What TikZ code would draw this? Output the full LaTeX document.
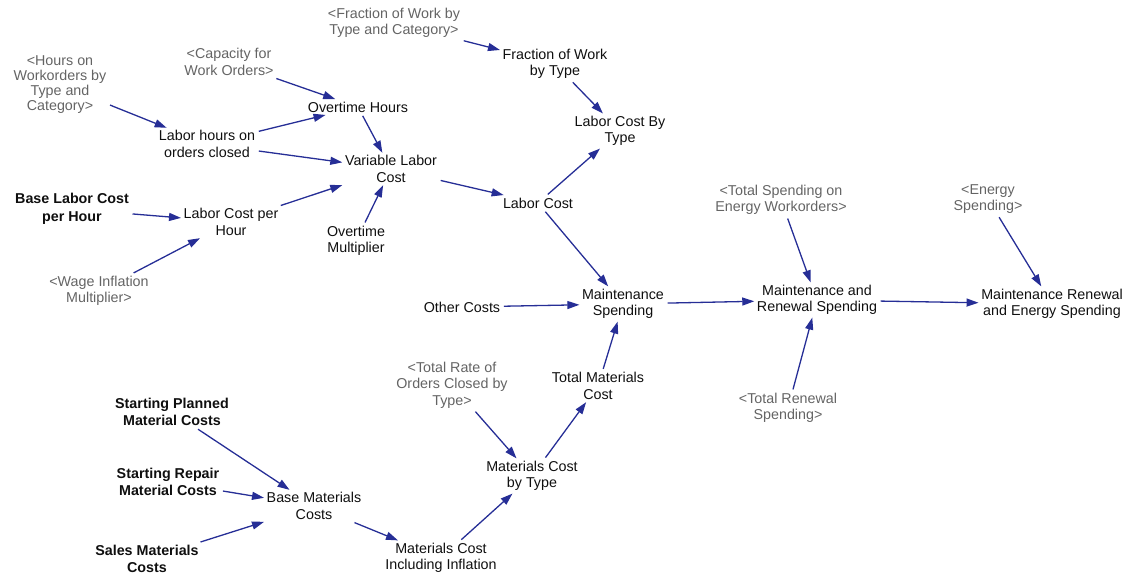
\documentclass[tikz,border=0pt]{standalone}
\usepackage{fontspec}
\setmainfont{Liberation Sans}
\usetikzlibrary{arrows.meta}
\definecolor{arrowblue}{RGB}{38,46,150}
\definecolor{shadowgray}{RGB}{100,100,100}
\definecolor{textblack}{RGB}{15,15,15}
\begin{document}
\begin{tikzpicture}[x=1pt,y=-1pt,
  every node/.style={align=center,inner sep=2.5pt,font=\fontsize{14.3}{16.5}\selectfont,text=textblack},
  var/.style={},
  shadow/.style={text=shadowgray},
  const/.style={font=\fontsize{14.3}{17.5}\selectfont\bfseries},
  link/.style={draw=arrowblue,line width=1.3pt,-{Triangle[length=12pt,width=8pt]},shorten <=1pt,shorten >=0pt}]
\useasboundingbox (0,0) rectangle (1128,580);
% nodes
\node[shadow] (fwc) at (394,23) {<Fraction of Work by\\Type and Category>};
\node[var] (fwt) at (555,64) {Fraction of Work\\by Type};
\node[shadow,font=\fontsize{14.3}{15}\selectfont] (how) at (60,85) {<Hours on\\Workorders by\\Type and\\Category>};
\node[shadow] (cap) at (229,62) {<Capacity for\\Work Orders>};
\node[var] (ot) at (358,107) {Overtime Hours};
\node[var] (lho) at (207,144) {Labor hours on\\orders closed};
\node[var] (vlc) at (391,169) {Variable Labor\\Cost};
\node[var] (lcbt) at (620,131) {Labor Cost By\\Type};
\node[var] (lc) at (538,203) {Labor Cost};
\node[const] (blc) at (72,209) {Base Labor Cost\\per Hour};
\node[var] (lcph) at (231,222) {Labor Cost per\\Hour};
\node[var] (om) at (356,241) {Overtime\\Multiplier};
\node[shadow] (wim) at (99,291) {<Wage Inflation\\Multiplier>};
\node[shadow] (tse) at (781,200) {<Total Spending on\\Energy Workorders>};
\node[shadow] (es) at (988,199) {<Energy\\Spending>};
\node[var] (mrs) at (817,300) {Maintenance and\\Renewal Spending};
\node[var] (mres) at (1052,304) {Maintenance Renewal\\and Energy Spending};
\node[var] (oc) at (462,307) {Other Costs};
\node[var] (ms) at (623,304) {Maintenance\\Spending};
\node[shadow] (trs) at (788,408) {<Total Renewal\\Spending>};
\node[shadow] (tro) at (452,385) {<Total Rate of\\Orders Closed by\\Type>};
\node[var] (tmc) at (598,386) {Total Materials\\Cost};
\node[var] (mcbt) at (532,476) {Materials Cost\\by Type};
\node[var] (mci) at (441,558) {Materials Cost\\Including Inflation};
\node[const] (spm) at (172,412) {Starting Planned\\Material Costs};
\node[const] (srm) at (168,482) {Starting Repair\\Material Costs};
\node[var] (bmc) at (314,506) {Base Materials\\Costs};
\node[const] (smc) at (147,559) {Sales Materials\\Costs};
% connectors
\draw[link] (fwc) -- (fwt);
\draw[link] (fwt) -- (lcbt);
\draw[link] (lc) -- (lcbt);
\draw[link] (vlc) -- (lc);
\draw[link] (lc) -- (ms);
\draw[link] (how) -- (lho);
\draw[link] (cap) -- (ot);
\draw[link] (lho) -- (ot);
\draw[link] (lho) -- (vlc);
\draw[link] (ot) -- (vlc);
\draw[link] (lcph) -- (vlc);
\draw[link] (om) -- (vlc);
\draw[link] (blc) -- (lcph);
\draw[link] (wim) -- (lcph);
\draw[link] (oc) -- (ms);
\draw[link] (ms) -- (mrs);
\draw[link] (tmc) -- (ms);
\draw[link] (mrs) -- (mres);
\draw[link] (tse) -- (mrs);
\draw[link] (trs) -- (mrs);
\draw[link] (es) -- (mres);
\draw[link] (tro) -- (mcbt);
\draw[link] (mcbt) -- (tmc);
\draw[link] (mci) -- (mcbt);
\draw[link] (bmc) -- (mci);
\draw[link] (spm) -- (bmc);
\draw[link] (srm) -- (bmc);
\draw[link] (smc) -- (bmc);
\end{tikzpicture}
\end{document}
